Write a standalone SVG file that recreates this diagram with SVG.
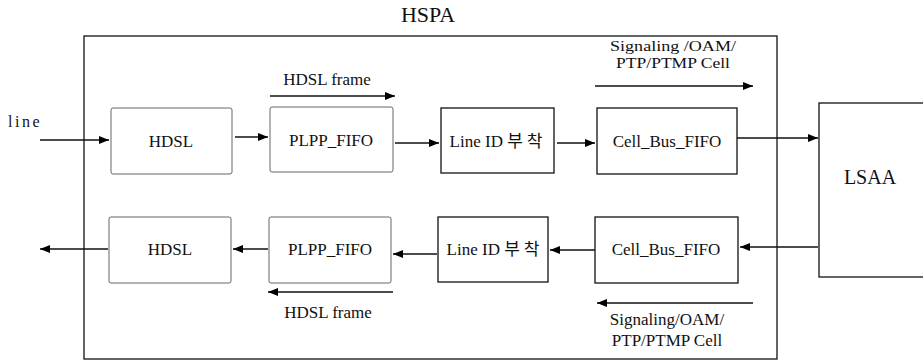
<svg xmlns="http://www.w3.org/2000/svg" width="923" height="361" viewBox="0 0 923 361">
<defs>
<marker id="ah" viewBox="0 0 10 8" refX="10" refY="4" markerWidth="10" markerHeight="8" markerUnits="userSpaceOnUse" orient="auto">
<path d="M0,0 L10,4 L0,8 Z" fill="#000"/>
</marker>
</defs>
<style>
text{font-family:"Liberation Serif","Times New Roman","Noto Sans CJK KR",serif;fill:#111}
.n{font-size:17px;text-anchor:middle}
.l{font-size:17px;text-anchor:middle}
.s{font-size:15px;text-anchor:middle}
.lite{fill:#fff;stroke:#666;stroke-width:1}
.dark{fill:#fff;stroke:#111;stroke-width:1.3}
.c{stroke:#111;stroke-width:1.5;fill:none;marker-end:url(#ah)}
</style>
<rect width="923" height="361" fill="#fff"/>
<g id="hspa">
<rect x="84" y="36" width="693" height="323" fill="none" stroke="#111" stroke-width="1.3"/>
<text x="428" y="22" font-size="22" text-anchor="middle">HSPA</text>
</g>
<g id="hdsl1"><rect class="lite" x="111" y="108" width="121" height="66" rx="2"/><text class="n" x="171" y="147">HDSL</text></g>
<g id="plpp1"><rect class="lite" x="270" y="107" width="123" height="65" rx="2"/><text class="n" x="331" y="146">PLPP_FIFO</text></g>
<g id="lineid1"><rect class="dark" x="441" y="108" width="113" height="65"/><text class="n" x="496" y="147">Line ID 부<tspan dx="4">착</tspan></text></g>
<g id="cell1"><rect class="dark" x="597" y="108" width="140" height="66"/><text class="n" x="667" y="147">Cell_Bus_FIFO</text></g>
<g id="lsaa"><rect class="dark" x="819" y="103" width="110" height="174"/><text x="870" y="184" font-size="20" text-anchor="middle">LSAA</text></g>
<g id="hdsl2"><rect class="lite" x="109" y="217" width="122" height="66" rx="2"/><text class="n" x="170" y="255">HDSL</text></g>
<g id="plpp2"><rect class="lite" x="269" y="217" width="122" height="66" rx="2"/><text class="n" x="330" y="255">PLPP_FIFO</text></g>
<g id="lineid2"><rect class="dark" x="438" y="217" width="110" height="65"/><text class="n" x="493" y="255">Line ID 부<tspan dx="4">착</tspan></text></g>
<g id="cell2"><rect class="dark" x="595" y="217" width="143" height="66"/><text class="n" x="666" y="255">Cell_Bus_FIFO</text></g>
<g id="connectors">
<path class="c" d="M40,140 L109,140"/>
<path class="c" d="M235,137 L268,137"/>
<path class="c" d="M395,143 L439,143"/>
<path class="c" d="M557,143 L595,143"/>
<path class="c" d="M737,138 L818,138"/>
<path class="c" d="M108,249 L40,249"/>
<path class="c" d="M268,249 L233,249"/>
<path class="c" d="M437,254 L393,254"/>
<path class="c" d="M595,250 L550,250"/>
<path class="c" d="M818,247 L740,247"/>
<path class="c" d="M270,96 L395,96"/>
<path class="c" d="M595,86 L753,86"/>
<path class="c" d="M393,292 L268,292"/>
<path class="c" d="M753,303 L597,303"/>
</g>
<g id="labels">
<text x="8" y="127" font-size="16" letter-spacing="2.5">line</text>
<text class="l" x="327" y="85">HDSL frame</text>
<text class="s" x="673" y="51" textLength="126" lengthAdjust="spacingAndGlyphs">Signaling /OAM/</text>
<text class="s" x="673" y="68" textLength="114" lengthAdjust="spacingAndGlyphs">PTP/PTMP Cell</text>
<text class="l" x="328" y="318">HDSL frame</text>
<text class="l" x="667" y="325">Signaling/OAM/</text>
<text class="l" x="667" y="346">PTP/PTMP Cell</text>
</g>
</svg>
